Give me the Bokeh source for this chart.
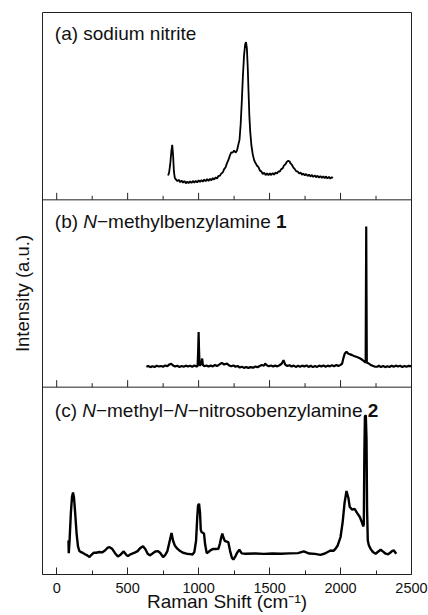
import math
from bokeh.plotting import figure
from bokeh.models import Range1d, FixedTicker, Label, Span
from bokeh.embed import file_html
from bokeh.resources import INLINE

# ---------------- data ----------------
major_ticks = [0, 500, 1000, 1500, 2000, 2500]
minor_ticks = [250, 750, 1250, 1750, 2250]

# (a) sodium nitrite
nitrite_shift = [785, 792, 800, 808, 814, 820, 826, 832, 840, 850, 860, 870, 880, 890, 900, 910, 920, 930,
                 940, 950, 960, 970, 980, 990, 1000, 1010, 1020, 1030, 1040, 1050, 1060, 1070, 1080, 1090,
                 1100, 1110, 1120, 1130, 1140, 1150, 1160, 1170, 1180, 1190, 1200, 1210, 1220, 1230, 1240,
                 1250, 1260, 1270, 1280, 1288, 1296, 1304, 1312, 1320, 1328, 1334, 1340, 1346, 1352, 1358,
                 1364, 1372, 1382, 1392, 1402, 1412, 1422, 1432, 1442, 1452, 1462, 1472, 1482, 1492, 1502,
                 1512, 1522, 1532, 1542, 1552, 1562, 1572, 1582, 1592, 1602, 1612, 1622, 1632, 1640, 1648,
                 1658, 1668, 1678, 1688, 1698, 1708, 1718, 1728, 1738, 1748, 1758, 1768, 1778, 1788, 1798,
                 1808, 1818, 1828, 1838, 1848, 1858, 1868, 1878, 1888, 1898, 1908, 1918, 1928, 1938, 1945]
nitrite_int = [13.0, 14.5, 19.0, 26.0, 29.3, 24.0, 15.0, 11.8, 10.9, 10.0, 10.7, 9.4, 10.3, 9.1, 10.0, 8.8, 9.7, 8.9,
               9.9, 9.0, 10.1, 9.2, 10.2, 9.3, 10.4, 9.5, 10.6, 9.7, 10.8, 9.9, 11.1, 10.1, 11.2, 10.4,
               11.6, 10.8, 12.0, 11.4, 12.8, 12.8, 14.1, 14.6, 16.4, 17.4, 19.6, 21.3, 23.6, 25.4, 25.2,
               26.4, 25.2, 26.2, 29.5, 32.0, 40.0, 52.0, 66.0, 77.0, 83.0, 84.2, 81.0, 71.0, 57.0, 44.0,
               36.0, 29.0, 24.0, 21.0, 19.5, 18.2, 17.5, 15.6, 15.2, 13.8, 14.5, 13.2, 14.2, 13.1, 14.2,
               13.2, 14.3, 13.4, 14.6, 14.0, 15.2, 15.1, 16.4, 16.8, 18.4, 19.0, 20.3, 20.8, 20.6, 19.4,
               18.6, 17.2, 16.4, 15.2, 15.2, 14.0, 14.6, 13.4, 14.1, 13.0, 13.8, 12.7, 13.5, 12.4, 13.3,
               12.2, 13.1, 12.0, 12.9, 11.8, 12.7, 11.7, 12.6, 11.5, 12.5, 11.4, 12.3, 11.3, 12.2, 11.5]

# (b) N-methylbenzylamine 1
amine_shift = [632, 645, 660, 675, 690, 705, 720, 735, 750, 765, 780, 795, 809, 820, 835, 850, 865, 880, 895,
               910, 925, 940, 955, 970, 985, 993, 997, 1000, 1003, 1007, 1013, 1020, 1025, 1030, 1040, 1055,
               1070, 1085, 1100, 1115, 1130, 1145, 1163, 1180, 1200, 1215, 1230, 1245, 1260, 1275, 1290,
               1305, 1320, 1335, 1350, 1365, 1385, 1400, 1415, 1430, 1445, 1460, 1469, 1480, 1495, 1510,
               1525, 1540, 1555, 1570, 1585, 1598, 1610, 1625, 1640, 1655, 1670, 1685, 1700, 1715, 1730,
               1745, 1760, 1775, 1790, 1805, 1820, 1835, 1850, 1865, 1880, 1895, 1910, 1925, 1940, 1955,
               1970, 1985, 2000, 2011, 2020, 2030, 2042, 2055, 2068, 2082, 2095, 2110, 2125, 2139, 2155,
               2171, 2177, 2179, 2181, 2183, 2185, 2195, 2210, 2225, 2240, 2258, 2270, 2285, 2300, 2315,
               2330, 2345, 2360, 2375, 2390, 2405, 2420, 2435, 2450, 2465, 2480, 2494, 2500]
amine_int = [10.9, 11.3, 10.7, 11.2, 10.8, 11.4, 11.0, 11.3, 10.9, 11.6, 11.2, 12.2, 12.4, 11.6, 11.0, 11.4, 10.8,
             11.3, 10.9, 11.5, 11.0, 11.4, 10.9, 11.6, 11.0, 11.3, 20.0, 29.5, 20.0, 11.6, 11.8, 13.0, 15.3,
             11.9, 11.2, 11.6, 11.0, 11.5, 11.1, 11.8, 11.3, 12.0, 13.0, 12.1, 12.6, 11.6, 11.2, 11.6, 10.9,
             11.3, 10.5, 10.9, 10.3, 10.8, 10.2, 10.7, 10.4, 11.0, 10.6, 11.3, 11.8, 11.4, 12.6, 11.7, 11.2,
             11.6, 11.0, 11.5, 11.1, 11.7, 12.5, 14.4, 12.0, 11.3, 11.7, 11.0, 11.5, 10.8, 11.4, 10.9, 11.5,
             11.0, 11.6, 10.8, 11.4, 10.7, 11.3, 10.8, 11.5, 11.0, 11.6, 10.9, 11.5, 11.1, 11.7, 11.2, 11.8,
             11.3, 11.9, 12.5, 15.5, 18.0, 18.9, 17.8, 17.5, 17.1, 16.6, 16.2, 15.8, 15.3, 14.5, 13.5, 13.0,
             50.0, 85.7, 50.0, 13.2, 12.8, 12.0, 11.4, 11.0, 10.9, 11.4, 10.8, 11.3, 10.7, 11.2, 10.8, 11.4,
             10.9, 11.5, 11.0, 11.4, 10.8, 11.3, 10.9, 11.4, 11.2, 11.0]

# (c) N-methyl-N-nitrosobenzylamine 2
nitroso_shift = [83, 85, 90, 100, 108, 115, 122, 130, 140, 150, 160, 172, 185, 200, 215, 231, 245, 260, 279,
                 300, 320, 340, 360, 373, 390, 410, 431, 450, 472, 490, 502, 520, 545, 570, 590, 608, 625,
                 640, 656, 675, 695, 714, 730, 750, 765, 780, 795, 809, 820, 832, 850, 870, 890, 915, 940,
                 957, 970, 982, 990, 996, 1003, 1010, 1015, 1021, 1030, 1038, 1046, 1057, 1070, 1085, 1103,
                 1120, 1139, 1150, 1160, 1167, 1176, 1186, 1198, 1209, 1222, 1235, 1245, 1258, 1270, 1287,
                 1304, 1330, 1400, 1460, 1520, 1580, 1640, 1700, 1741, 1780, 1820, 1858, 1890, 1929, 1950,
                 1964, 1980, 2000, 2015, 2028, 2042, 2055, 2065, 2082, 2099, 2115, 2136, 2150, 2160, 2164,
                 2168, 2172, 2178, 2183, 2187, 2192, 2200, 2212, 2228, 2247, 2262, 2283, 2300, 2318, 2335,
                 2350, 2365, 2376, 2385, 2393]
nitroso_int = [18.2, 11.4, 17.0, 33.0, 41.5, 43.8, 41.0, 33.0, 22.0, 15.0, 12.5, 11.9, 11.5, 10.8, 10.2, 9.3, 10.5,
               11.6, 11.6, 12.0, 11.8, 12.8, 14.3, 14.6, 13.8, 11.5, 9.6, 10.6, 12.3, 10.5, 9.8, 10.8, 11.5,
               12.5, 14.2, 15.1, 13.5, 11.2, 10.2, 11.2, 12.3, 12.5, 11.5, 9.3, 10.5, 12.5, 17.5, 22.1, 18.0,
               15.5, 13.8, 12.5, 11.6, 11.1, 10.9, 10.7, 12.0, 18.0, 30.0, 36.8, 37.8, 33.0, 24.0, 22.6, 22.3,
               21.8, 16.0, 11.4, 12.0, 13.0, 13.7, 13.6, 13.7, 16.5, 20.0, 21.8, 19.5, 17.8, 17.6, 17.3, 12.5,
               8.8, 8.0, 9.5, 11.5, 13.2, 11.3, 11.1, 11.2, 11.0, 11.2, 11.1, 11.3, 11.4, 12.3, 11.2, 11.0,
               10.5, 11.2, 12.8, 12.6, 13.7, 15.5, 20.0, 28.0, 38.0, 44.6, 41.0, 36.0, 34.6, 35.1, 33.0, 30.7,
               28.0, 25.7, 27.0, 65.0, 84.5, 85.0, 72.0, 35.0, 18.2, 15.5, 13.7, 12.0, 11.1, 12.0, 13.2, 12.2,
               11.1, 10.8, 11.6, 12.6, 12.8, 11.8, 11.1]

# panel titles: (text, font style, x offset in px from the first piece)
title_a = [("(a) sodium nitrite", "normal", 0)]
title_b = [("(b) ", "normal", 0), ("N", "italic", 28.5), ("\u2212methylbenzylamine ", "normal", 42.2),
           ("1", "bold", 221.2)]
title_c = [("(c) ", "normal", 0), ("N", "italic", 27.4), ("\u2212methyl\u2212", "normal", 41.1),
           ("N", "italic", 119.2), ("\u2212nitrosobenzylamine ", "normal", 132.9), ("2", "bold", 312.9)]

# ---------------- layout / styling ----------------
FONT = "Liberation Sans"
LINE_C = "#222222"
TEXT_C = "#111111"
PANEL = 100            # height of one stacked panel in y units
OFF_A, OFF_B, OFF_C = 2 * PANEL, PANEL, 0

p = figure(width=428, height=615, x_range=Range1d(-100, 2500), y_range=Range1d(0, 3 * PANEL),
           output_backend="svg", toolbar_location=None,
           min_border_left=42, min_border_right=17, min_border_top=12, min_border_bottom=41)
p.grid.visible = False
p.background_fill_color = "white"
p.border_fill_color = "white"
p.outline_line_color = LINE_C
p.outline_line_width = 1

# x axis (bottom panel)
xa = p.xaxis[0]
xa.ticker = FixedTicker(ticks=major_ticks, minor_ticks=minor_ticks)
xa.major_tick_in = 7
xa.major_tick_out = 0
xa.minor_tick_in = 4
xa.minor_tick_out = 0
xa.major_tick_line_color = LINE_C
xa.minor_tick_line_color = LINE_C
xa.axis_line_color = LINE_C
xa.major_label_text_font = FONT
xa.major_label_text_font_size = "14.5px"
xa.major_label_text_color = TEXT_C
xa.major_label_standoff = 8
xa.axis_label = "Raman Shift (cm\u207b\u00b9)"
xa.axis_label_text_font = FONT
xa.axis_label_text_font_size = "19px"
xa.axis_label_text_font_style = "normal"
xa.axis_label_text_color = TEXT_C
xa.axis_label_standoff = -5

# y axis: title only
ya = p.yaxis[0]
ya.ticker = FixedTicker(ticks=[], minor_ticks=[])
ya.major_tick_in = 0
ya.major_tick_out = 0
ya.minor_tick_in = 0
ya.minor_tick_out = 0
ya.axis_line_color = None
ya.axis_label = "Intensity (a.u.)"
ya.axis_label_text_font = FONT
ya.axis_label_text_font_size = "18.5px"
ya.axis_label_text_font_style = "normal"
ya.axis_label_text_color = TEXT_C
ya.axis_label_standoff = 10

# panel separators with inward ticks on their lower edge
for base in (OFF_A, OFF_B):
    p.add_layout(Span(location=base, dimension="width", line_color=LINE_C, line_width=1))
    p.ray(x=major_ticks, y=[base] * len(major_ticks), length=7, length_units="screen",
          angle=math.pi / 2, line_color=LINE_C, line_width=1)
    p.ray(x=minor_ticks, y=[base] * len(minor_ticks), length=4, length_units="screen",
          angle=math.pi / 2, line_color=LINE_C, line_width=1)

# spectra
p.line(nitrite_shift, [v + OFF_A for v in nitrite_int], line_color="black", line_width=1.8)
p.line(amine_shift, [v + OFF_B for v in amine_int], line_color="black", line_width=2.2)
p.line(nitroso_shift, [v + OFF_C for v in nitroso_int], line_color="black", line_width=2.4)

# panel titles
for title, top, dy in ((title_a, OFF_A + PANEL, 20.5), (title_b, OFF_B + PANEL, 21.5), (title_c, OFF_C + PANEL, 23.5)):
    for text, style, dx in title:
        p.add_layout(Label(x=-100, y=top, x_offset=12.3 + dx, y_offset=-dy, text=text,
                           text_font=FONT, text_font_size="19px", text_font_style=style,
                           text_color=TEXT_C, text_baseline="middle", text_align="left"))

open("out.html", "w").write(file_html(p, INLINE))
